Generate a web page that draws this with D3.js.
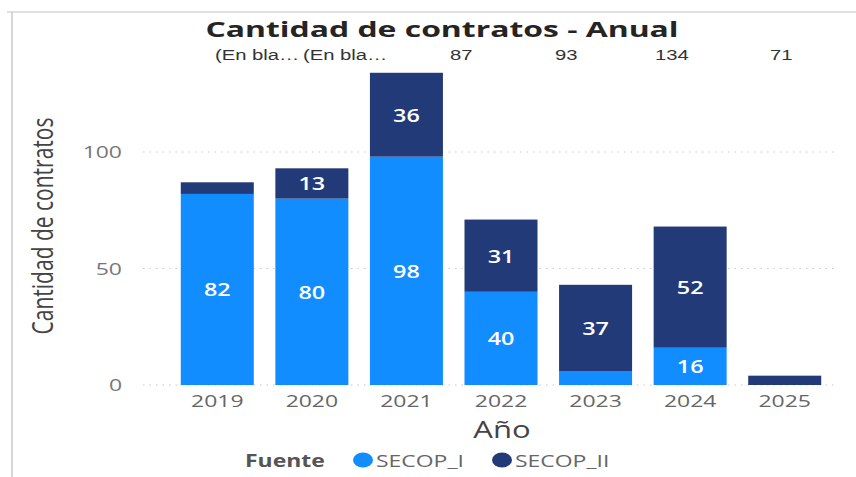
<!DOCTYPE html>
<html lang="es">
<head>
<meta charset="UTF-8">
<title>Cantidad de contratos - Anual</title>
<script src="https://d3js.org/d3.v7.min.js"></script>
<style>
  body { margin: 0; background: #fff; font-family: "Open Sans", sans-serif; }
  svg { display: block; }
</style>
</head>
<body>
<svg width="856" height="477"></svg>
<script>
const years = ["2019", "2020", "2021", "2022", "2023", "2024", "2025"];
const secopI = [82, 80, 98, 40, 6, 16, 0];
const secopII = [5, 13, 36, 31, 37, 52, 4];
const yTicks = [0, 50, 100];
const topLabels = ["(En bla…", "(En bla…", "87", "93", "134", "71"];
const topLabelX = [215, 303, 450, 555, 655, 770];
const seriesNames = ["SECOP_I", "SECOP_II"];
const colors = ["#118DFF", "#233A78"];

const svg = d3.select("svg");
const SX = 1.35; // el texto del original sale ensanchado

// pone el texto en (x,y) y lo estira en horizontal
function place(sel, fx, fy, sx = SX) {
  sel.attr("transform", (d, i) => `translate(${fx(d, i)},${fy(d, i)}) scale(${sx},1)`);
}

// marco
svg.append("line").attr("x1", 7).attr("x2", 856).attr("y1", 12).attr("y2", 12)
  .attr("stroke", "#d6d6d6").attr("stroke-width", 1.5);
svg.append("line").attr("x1", 12).attr("x2", 12).attr("y1", 12).attr("y2", 477)
  .attr("stroke", "#c8c8c8").attr("stroke-width", 1.5);

const x = d3.scaleBand().domain(years).range([170, 832]).paddingInner(0.228).paddingOuter(0.114);
const y = d3.scaleLinear().domain([0, 100]).range([385, 152]);

// grid
svg.selectAll(".grid").data(yTicks).enter().append("line")
  .attr("x1", 143).attr("x2", 836)
  .attr("y1", d => y(d)).attr("y2", d => y(d))
  .attr("stroke", "#c8c8c8").attr("stroke-dasharray", "1.5,5");

svg.selectAll(".ytick").data(yTicks).enter().append("text")
  .attr("text-anchor", "end").attr("fill", "#777").attr("font-size", 17)
  .call(place, () => 122, d => y(d) + 6)
  .text(d => d);

const rows = years.map((yr, i) => ({ year: yr, SECOP_I: secopI[i], SECOP_II: secopII[i] }));
const stacked = d3.stack().keys(seriesNames)(rows);

const layers = svg.selectAll(".layer").data(stacked).enter().append("g")
  .attr("fill", (d, i) => colors[i]);

layers.selectAll("rect").data(d => d).enter().append("rect")
  .attr("x", d => x(d.data.year))
  .attr("width", x.bandwidth())
  .attr("y", d => y(d[1]))
  .attr("height", d => y(d[0]) - y(d[1]));

layers.selectAll("text").data(d => d.filter(s => y(s[0]) - y(s[1]) > 25)).enter().append("text")
  .attr("text-anchor", "middle").attr("fill", "#fff")
  .attr("font-size", 18).attr("font-weight", 600)
  .call(place, d => x(d.data.year) + x.bandwidth() / 2, d => (y(d[0]) + y(d[1])) / 2 + 7, 1.3)
  .text(d => d[1] - d[0]);

// eje x
svg.selectAll(".xtick").data(years).enter().append("text")
  .attr("text-anchor", "middle").attr("fill", "#666").attr("font-size", 17)
  .call(place, d => x(d) + x.bandwidth() / 2, () => 407)
  .text(d => d);

svg.append("text").attr("text-anchor", "middle")
  .attr("fill", "#444").attr("font-size", 23)
  .call(place, () => 502, () => 438)
  .text("Año");

svg.append("text").attr("transform", `translate(53,226) scale(${SX},1) rotate(-90)`)
  .attr("text-anchor", "middle").attr("fill", "#444").attr("font-size", 21)
  .text("Cantidad de contratos");

// titulo
svg.append("text").attr("text-anchor", "middle")
  .attr("fill", "#252423").attr("font-size", 22).attr("font-weight", 700)
  .call(place, () => 442, () => 37, 1.45)
  .text("Cantidad de contratos - Anual");

svg.selectAll(".top").data(topLabels).enter().append("text")
  .attr("text-anchor", "start").attr("fill", "#333").attr("font-size", 15)
  .attr("font-family", "Liberation Sans, Arial, sans-serif")
  .call(place, (d, i) => topLabelX[i], () => 60)
  .text(d => d);

// leyenda
svg.append("text").attr("fill", "#555")
  .attr("font-size", 17).attr("font-weight", 700)
  .call(place, () => 245, () => 467)
  .text("Fuente");
const legX = [363, 502];
const leg = svg.selectAll(".leg").data(seriesNames).enter().append("g")
  .attr("transform", (d, i) => `translate(${legX[i]},460)`);
leg.append("ellipse").attr("rx", 10).attr("ry", 7.5).attr("fill", (d, i) => colors[i]);
leg.append("text").attr("fill", "#666").attr("font-size", 17)
  .call(place, () => 13, () => 7)
  .text(d => d);
</script>
</body>
</html>
